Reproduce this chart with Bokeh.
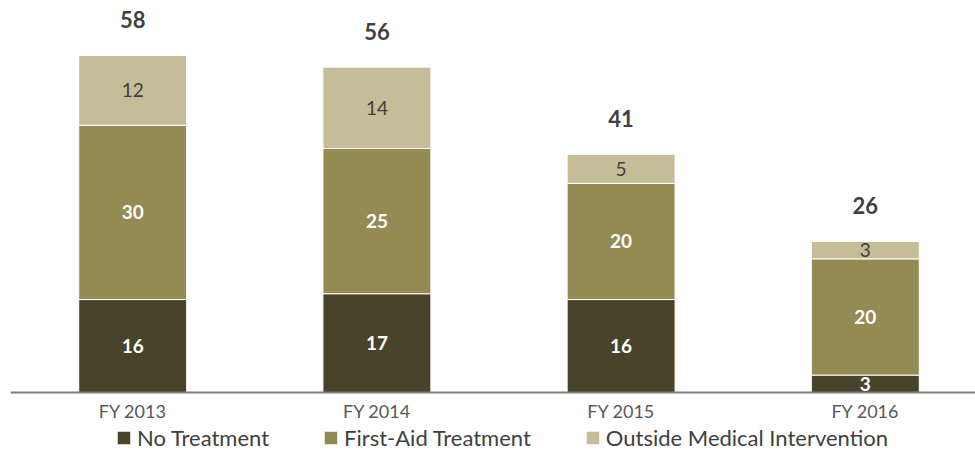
from bokeh.plotting import figure
from bokeh.models import ColumnDataSource, Range1d, Legend, LegendItem, Span
from bokeh.core.properties import value
from bokeh.embed import file_html
from bokeh.resources import INLINE

years = ["FY 2013", "FY 2014", "FY 2015", "FY 2016"]
no_treatment = [16, 17, 16, 3]
first_aid = [30, 25, 20, 20]
outside_medical = [12, 14, 5, 3]
series_names = ["No Treatment", "First-Aid Treatment", "Outside Medical Intervention"]
colors = ["#494429", "#948A54", "#C4BD97"]

xs = list(range(len(years)))
totals = [a + b + c for a, b, c in zip(no_treatment, first_aid, outside_medical)]

src = ColumnDataSource(dict(x=xs, no=no_treatment, fa=first_aid, om=outside_medical))

W, H = 975, 451
PX_PER_CAT = 244.2
PX_PER_UNIT = 5.81
LEFT = 10
BASE_Y = 392          # pixel row of the value axis zero
FRAME_W = W - LEFT
x0 = -(132.2 - LEFT) / PX_PER_CAT

p = figure(width=W, height=H, output_backend="svg", toolbar_location=None,
           x_range=Range1d(x0, x0 + FRAME_W / PX_PER_CAT),
           y_range=Range1d(-(H - BASE_Y) / PX_PER_UNIT, BASE_Y / PX_PER_UNIT),
           min_border_left=LEFT, min_border_right=0, min_border_top=0, min_border_bottom=0,
           x_axis_location=None, y_axis_location=None)
p.outline_line_color = None
p.xgrid.visible = False
p.ygrid.visible = False

rs = p.vbar_stack(["no", "fa", "om"], x="x", width=0.442, fill_color=colors,
                  line_color="white", line_width=1, source=src)

# baseline (category axis line)
p.add_layout(Span(location=0, dimension="width", line_color="#7F7F7F", line_width=2))

# category labels
p.text(x=xs, y=[0] * len(xs), text=years, text_align="center", text_baseline="middle",
       y_offset=18, text_font=value("Lato"), text_font_size="18px", text_color="#595959")

# segment labels
white_x, white_y, white_t = [], [], []
dark_x, dark_y, dark_t = [], [], []
for i in xs:
    base = 0
    for k, vals in enumerate([no_treatment, first_aid, outside_medical]):
        v = vals[i]
        mid = base + v / 2
        if k < 2:
            white_x.append(i); white_y.append(mid); white_t.append(str(v))
        else:
            dark_x.append(i); dark_y.append(mid); dark_t.append(str(v))
        base += v

p.text(x=white_x, y=white_y, text=white_t, text_align="center", text_baseline="middle",
       text_font=value("Lato"), text_font_style="bold", text_font_size="19px", text_color="white")
p.text(x=dark_x, y=dark_y, text=dark_t, text_align="center", text_baseline="middle",
       text_font=value("Lato"), text_font_size="19px", text_color="#404040")
p.text(x=xs, y=totals, text=[str(t) for t in totals], text_align="center", text_baseline="middle",
       y_offset=-36, text_font=value("Lato"), text_font_style="bold", text_font_size="22px",
       text_color="#404040")

legend = Legend(items=[LegendItem(label=n, renderers=[r]) for n, r in zip(series_names, rs)],
                orientation="horizontal", location=(105, 0), spacing=53,
                glyph_width=17, glyph_height=17, label_standoff=5, padding=0, margin=0,
                border_line_color=None, background_fill_alpha=0,
                label_text_font="Lato", label_text_font_size="22px", label_text_color="#404040")
p.add_layout(legend)

open("out.html", "w").write(file_html(p, INLINE))
